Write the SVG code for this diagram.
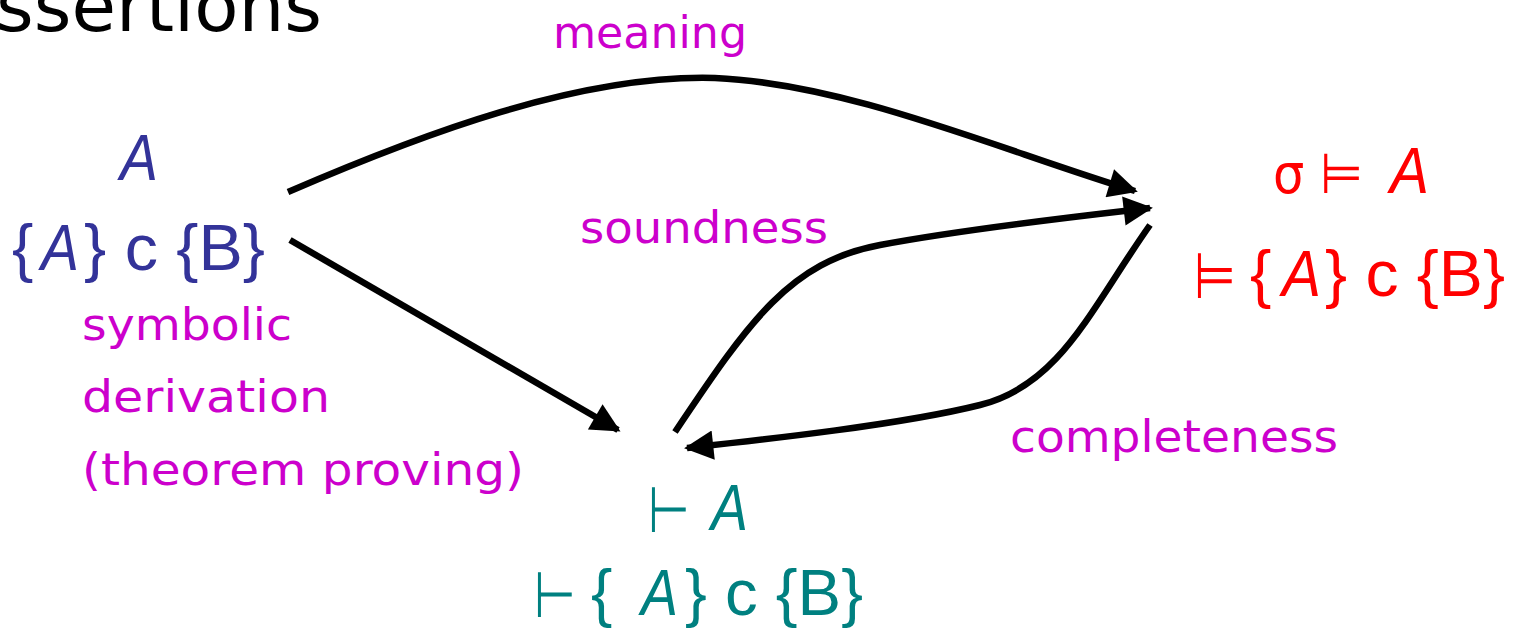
<svg xmlns="http://www.w3.org/2000/svg" width="1513" height="631" viewBox="0 0 1513 631">
<defs>
<marker id="ah" viewBox="0 0 10 10" refX="9" refY="5" markerWidth="5" markerHeight="4.5" orient="auto" markerUnits="strokeWidth">
<path d="M0,0 L10,5 L0,10 Z" fill="#000"/>
</marker>
<style>
.conn{fill:none;stroke:#000;stroke-width:6.5;marker-end:url(#ah)}
.title{font-family:"DejaVu Sans","Liberation Sans",sans-serif;font-size:72px;fill:#000}
.t{font-family:"Liberation Sans","DejaVu Sans",sans-serif;font-size:64px}
.sym{font-family:"DejaVu Sans","Liberation Sans",sans-serif;font-size:56px}
.sym2{font-family:"DejaVu Sans","Liberation Sans",sans-serif;font-size:64px}
.lbl{font-family:"DejaVu Sans","Liberation Sans",sans-serif;font-size:44px;fill:#CC00CC}
.blue{fill:#333399}
.red{fill:#FF0000}
.teal{fill:#008080}
.it{font-style:italic}
</style>
</defs>
<rect width="1513" height="631" fill="#fff"/>
<text class="title" x="-4" y="31" textLength="326" lengthAdjust="spacingAndGlyphs">ssertions</text>
<g id="connectors">
<path class="conn" d="M288,192 C420,135 580,74 715,78 C850,84 1000,150 1135,191"/>
<path class="conn" d="M290,240 L618,430"/>
<path class="conn" d="M675,432 C750,320 790,262 880,245 S1090,215 1150,208"/>
<path class="conn" d="M1150,225 C1090,310 1060,385 980,405 S760,440 687,448"/>
</g>
<g id="node-assertion">
<text class="t blue it" x="120" y="180" textLength="38" lengthAdjust="spacingAndGlyphs">A</text>
<text class="t blue" x="12" y="270">{</text>
<text class="t blue it" x="41" y="270" textLength="38" lengthAdjust="spacingAndGlyphs">A</text>
<text class="t blue" x="84" y="270" textLength="181" lengthAdjust="spacingAndGlyphs">} c {B}</text>
</g>
<g id="node-semantic">
<text class="sym red" x="1273" y="193" textLength="90" lengthAdjust="spacingAndGlyphs">σ ⊨</text>
<text class="t red it" x="1390" y="193" textLength="39" lengthAdjust="spacingAndGlyphs">A</text>
<text class="sym2 red" x="1194" y="298" textLength="42" lengthAdjust="spacingAndGlyphs">⊨</text>
<text class="t red" x="1250" y="296">{</text>
<text class="t red it" x="1282" y="296" textLength="39" lengthAdjust="spacingAndGlyphs">A</text>
<text class="t red" x="1325" y="296" textLength="180" lengthAdjust="spacingAndGlyphs">} c {B}</text>
</g>
<g id="node-proof">
<text class="sym2 teal" x="648" y="532" textLength="42" lengthAdjust="spacingAndGlyphs">⊢</text>
<text class="t teal it" x="711" y="530" textLength="37" lengthAdjust="spacingAndGlyphs">A</text>
<text class="sym2 teal" x="534" y="617" textLength="42" lengthAdjust="spacingAndGlyphs">⊢</text>
<text class="t teal" x="591" y="615">{</text>
<text class="t teal it" x="641" y="615" textLength="37" lengthAdjust="spacingAndGlyphs">A</text>
<text class="t teal" x="685" y="615" textLength="178" lengthAdjust="spacingAndGlyphs">} c {B}</text>
</g>
<g id="labels">
<text class="lbl" x="553" y="48" textLength="194" lengthAdjust="spacingAndGlyphs">meaning</text>
<text class="lbl" x="580" y="243" textLength="248" lengthAdjust="spacingAndGlyphs">soundness</text>
<text class="lbl" x="1010" y="452" textLength="328" lengthAdjust="spacingAndGlyphs">completeness</text>
<text class="lbl" x="82" y="340" textLength="210" lengthAdjust="spacingAndGlyphs">symbolic</text>
<text class="lbl" x="82" y="412" textLength="248" lengthAdjust="spacingAndGlyphs">derivation</text>
<text class="lbl" x="82" y="485" textLength="442" lengthAdjust="spacingAndGlyphs">(theorem proving)</text>
</g>
</svg>
